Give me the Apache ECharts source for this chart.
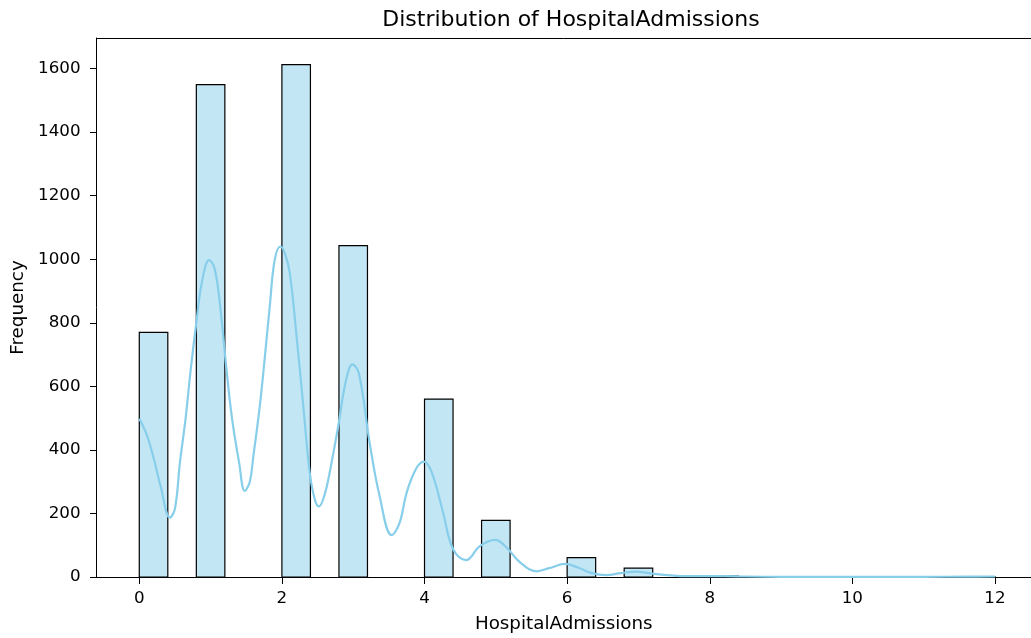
<!DOCTYPE html>
<html>
<head>
<meta charset="utf-8">
<script src="https://cdn.jsdelivr.net/npm/echarts@6/dist/echarts.min.js"></script>
<style>
  html, body { margin: 0; padding: 0; background: #fff; }
  #chart { width: 1031px; height: 638px; }
</style>
</head>
<body>
<div id="chart"></div>
<script>
// ---- data ----
const titleText = 'Distribution of HospitalAdmissions';
const xAxisName = 'HospitalAdmissions';
const yAxisName = 'Frequency';
const binStart = 0;
const binWidth = 0.4;
const binCounts = [770, 0, 1549, 0, 0, 1612, 0, 1043, 0, 0, 560, 0, 178, 0, 0, 61, 0, 28, 0, 0, 3, 0, 0, 0, 0, 0, 0, 0, 0, 1];
const kdeX = [0, 0.1, 0.2, 0.3, 0.43, 0.5, 0.57, 0.65, 0.72, 0.8, 0.88, 0.98, 1.05, 1.12, 1.22, 1.3, 1.4, 1.48, 1.55, 1.6, 1.69, 1.76, 1.83, 1.9, 1.98, 2.04, 2.11, 2.21, 2.3, 2.39, 2.46, 2.52, 2.6, 2.67, 2.79, 2.9, 2.99, 3.08, 3.23, 3.37, 3.54, 3.65, 3.75, 3.88, 3.99, 4.1, 4.26, 4.4, 4.58, 4.78, 4.99, 5.15, 5.34, 5.57, 5.75, 5.97, 6.15, 6.35, 6.55, 6.75, 6.97, 7.15, 7.4, 7.7, 8.0, 8.2, 8.5, 9, 10, 11, 11.6, 12];
const kdeY = [498, 450, 375, 285, 187, 215, 360, 500, 650, 800, 930, 997, 975, 880, 660, 500, 360, 271, 300, 381, 538, 690, 852, 999, 1040, 1020, 957, 748, 538, 329, 245, 222, 260, 329, 475, 620, 669, 640, 423, 255, 132, 170, 266, 340, 363, 330, 203, 88, 53, 98, 117, 93, 46, 18, 28, 41, 30, 12, 6, 12, 17, 12, 6, 2.5, 2.5, 3, 1.5, 0.5, 0.3, 0.5, 1.2, 1.5];
const xTicks = [0, 2, 4, 6, 8, 10, 12];
const yTicks = [0, 200, 400, 600, 800, 1000, 1200, 1400, 1600];

// ---- build ----
const histData = binCounts.map((c, i) => [binStart + i * binWidth, binStart + (i + 1) * binWidth, c]).filter(d => d[2] > 0);
const kdeData = kdeX.map((x, i) => [x, kdeY[i]]);

const font = 'DejaVu Sans';
const X_MIN = -0.6, X_MAX = 12.505, Y_MAX = 1696;
const chart = echarts.init(document.getElementById('chart'), null, { renderer: 'canvas' });
chart.setOption({
  animation: false,
  backgroundColor: '#fff',
  title: {
    text: titleText,
    left: 566, textAlign: 'center',
    top: 4,
    textStyle: { fontFamily: font, fontSize: 22, fontWeight: 'normal', color: '#000' }
  },
  grid: {
    left: 96.5, top: 38, right: 0, bottom: 60,
    show: false
  },
  xAxis: [{
    type: 'value', min: X_MIN, max: X_MAX,
    name: xAxisName, nameLocation: 'middle', nameGap: 38,
    nameTextStyle: { fontFamily: font, fontSize: 18.3, color: '#000' },
    axisLine: { show: true, onZero: false, lineStyle: { color: '#000', width: 1 } },
    axisTick: { show: true, length: 7, lineStyle: { color: '#000', width: 1 }, customValues: xTicks },
    axisLabel: { fontFamily: font, fontSize: 16.7, color: '#000', margin: 13, customValues: xTicks,
                 formatter: v => String(v) },
    splitLine: { show: false }
  }, {
    type: 'value', min: X_MIN, max: X_MAX, position: 'top',
    axisLine: { show: true, onZero: false, lineStyle: { color: '#000', width: 1 } },
    axisTick: { show: false }, axisLabel: { show: false }, splitLine: { show: false }
  }],
  yAxis: {
    type: 'value', min: 0, max: Y_MAX,
    name: yAxisName, nameLocation: 'middle', nameGap: 68,
    nameTextStyle: { fontFamily: font, fontSize: 18.3, color: '#000' },
    axisLine: { show: true, onZero: false, lineStyle: { color: '#000', width: 1 } },
    axisTick: { show: true, length: 6.5, lineStyle: { color: '#000', width: 1 }, customValues: yTicks },
    axisLabel: { fontFamily: font, fontSize: 16.7, color: '#000', margin: 16, customValues: yTicks,
                 formatter: v => String(v) },
    splitLine: { show: false }
  },
  series: [
    {
      type: 'custom',
      data: histData,
      encode: { x: [0, 1], y: 2 },
      z: 2,
      renderItem: function (params, api) {
        const p0 = api.coord([api.value(0), api.value(2)]);
        const p1 = api.coord([api.value(1), 0]);
        return {
          type: 'rect',
          shape: { x: p0[0], y: p0[1], width: p1[0] - p0[0], height: p1[1] - p0[1] },
          style: { fill: 'rgba(135,206,235,0.5)', stroke: '#000', lineWidth: 1.2 }
        };
      }
    },
    {
      type: 'line',
      data: kdeData,
      smooth: 0.4,
      showSymbol: false,
      z: 3,
      lineStyle: { color: '#87CEEB', width: 2.2 }
    }
  ]
});
</script>
</body>
</html>
